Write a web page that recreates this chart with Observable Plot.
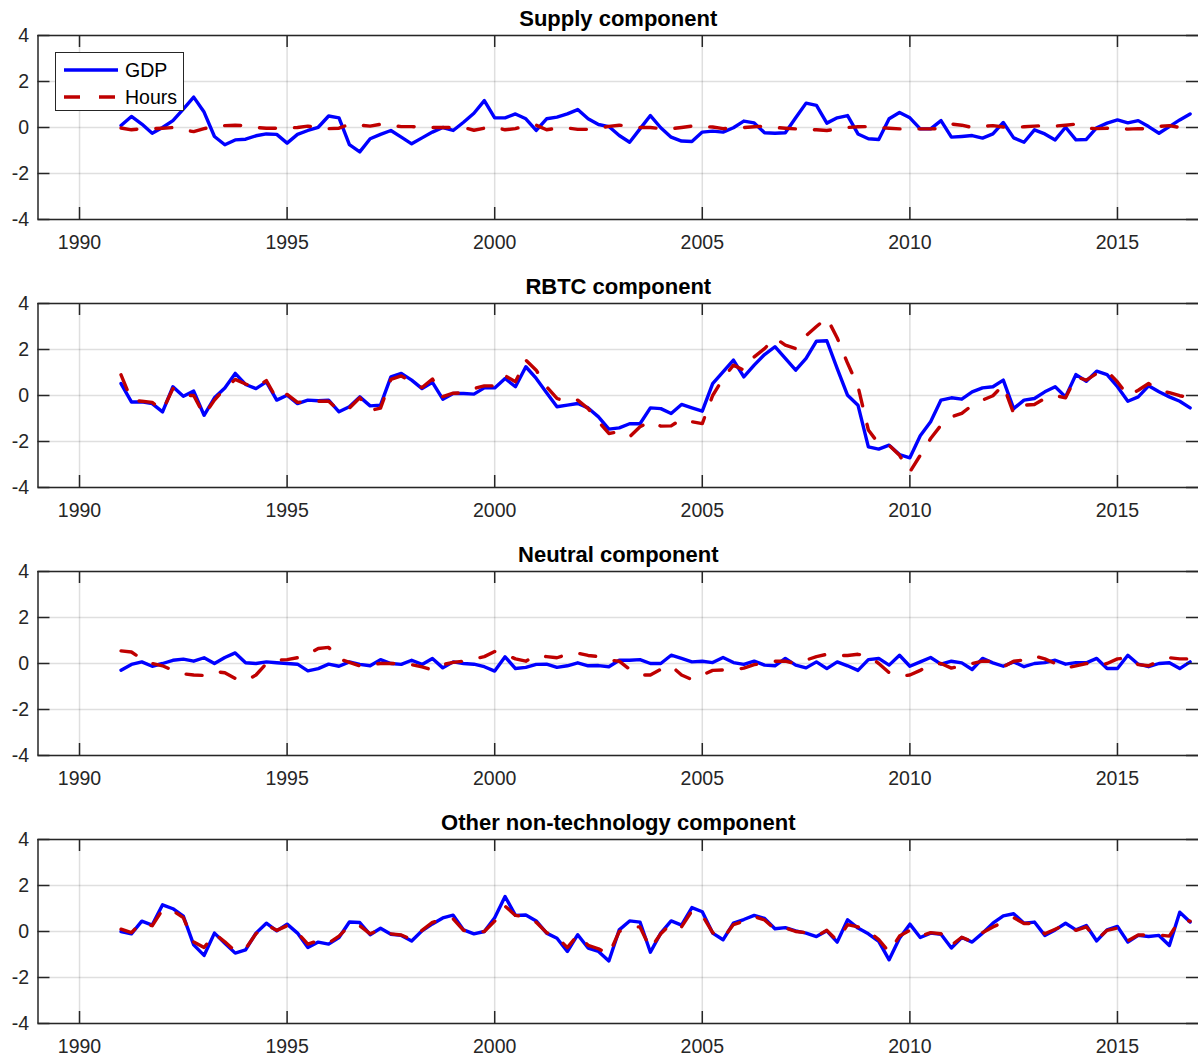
<!DOCTYPE html>
<html>
<head>
<meta charset="utf-8">
<script src="https://cdn.jsdelivr.net/npm/d3@7"></script>
<script src="https://cdn.jsdelivr.net/npm/@observablehq/plot@0.6"></script>
<style>
  body { margin: 0; background: #fff; font-family: "Liberation Sans", Arial, Helvetica, sans-serif; }
  #chart { position: relative; width: 1198px; height: 1057px; overflow: hidden; background: #fff; }
  #chart svg { display: block; }
  .legend { position: absolute; left: 55px; top: 52px; width: 127px; height: 57px;
            border: 1.5px solid #262626; background: #fff; }
  .legend .row { position: absolute; left: 0; height: 27px; width: 127px; }
  .legend svg { position: absolute; left: 7px; top: 0; }
  .legend span { position: absolute; left: 69px; top: 2px; font-size: 19.5px; color: #000; line-height: 22px; }
</style>
</head>
<body>
<div id="chart"></div>
<script>
// ---------- data ----------
const panelTitles = ["Supply component", "RBTC component", "Neutral component", "Other non-technology component"];
const seriesNames = ["GDP", "Hours"];
const xTicks = [1990, 1995, 2000, 2005, 2010, 2015];
const yTicks = [-4, -2, 0, 2, 4];
const xDomain = [1989, 2017];
const yDomain = [-4, 4];
const firstQuarter = 1991;
const nQuarters = 104;

const supplyGDP = [0.09,0.48,0.15,-0.25,0.0,0.3,0.8,1.32,0.67,-0.39,-0.75,-0.54,-0.51,-0.36,-0.28,-0.3,-0.68,-0.3,-0.13,0.01,
  0.5,0.42,-0.74,-1.06,-0.49,-0.3,-0.13,-0.42,-0.71,-0.45,-0.2,0.0,-0.13,0.23,0.62,1.17,0.42,0.42,0.59,0.38,
  -0.13,0.38,0.45,0.59,0.78,0.38,0.13,0.04,-0.35,-0.64,-0.06,0.52,-0.01,-0.42,-0.59,-0.61,-0.2,-0.16,-0.2,-0.01,
  0.28,0.2,-0.23,-0.25,-0.23,0.42,1.06,0.96,0.19,0.42,0.52,-0.28,-0.49,-0.52,0.38,0.65,0.42,-0.06,-0.06,0.3,
  -0.42,-0.39,-0.35,-0.46,-0.28,0.22,-0.45,-0.64,-0.1,-0.28,-0.54,0.01,-0.54,-0.52,-0.01,0.19,0.33,0.2,0.3,0.04,
  -0.25,0.04,0.33,0.59];
const supplyHours = [-0.02,-0.1,-0.05,-0.05,-0.03,0.0,-0.1,-0.18,-0.05,0.05,0.08,0.1,0.08,0.0,-0.03,-0.03,-0.02,0.0,0.06,0.0,
  -0.05,-0.03,0.14,0.1,0.06,0.14,0.08,0.04,0.04,0.02,0.0,0.0,0.0,0.0,-0.12,-0.03,0.02,-0.1,-0.05,0.08,
  0.1,-0.1,-0.03,-0.02,-0.08,-0.08,-0.03,0.05,0.1,0.05,0.0,0.0,-0.05,-0.05,0.0,0.06,0.05,0.02,-0.05,-0.03,
  0.0,0.03,0.06,0.0,-0.03,-0.06,-0.1,-0.1,-0.13,-0.07,0.0,0.03,0.04,0.0,-0.03,-0.06,-0.06,-0.06,-0.06,-0.05,
  0.15,0.1,0.0,0.05,0.08,0.02,0.0,0.03,0.06,0.09,0.06,0.1,0.15,-0.03,-0.05,-0.03,-0.05,-0.07,-0.05,-0.06,
  0.05,0.08,0.0,-0.06];
const rbtcGDP = [0.52,-0.28,-0.28,-0.35,-0.71,0.38,-0.03,0.19,-0.86,-0.1,0.33,0.96,0.48,0.3,0.59,-0.2,0.01,-0.35,-0.2,-0.23,
  -0.2,-0.71,-0.49,-0.06,-0.45,-0.42,0.81,0.96,0.67,0.3,0.57,-0.16,0.09,0.09,0.06,0.33,0.33,0.74,0.38,1.25,
  0.74,0.12,-0.49,-0.42,-0.35,-0.54,-0.93,-1.46,-1.41,-1.23,-1.23,-0.54,-0.57,-0.78,-0.39,-0.54,-0.68,0.52,1.03,1.54,
  0.81,1.32,1.78,2.12,1.61,1.1,1.61,2.36,2.38,1.17,0.01,-0.42,-2.23,-2.33,-2.16,-2.57,-2.71,-1.75,-1.14,-0.2,
  -0.1,-0.16,0.16,0.33,0.38,0.67,-0.57,-0.2,-0.13,0.16,0.38,-0.06,0.91,0.62,1.06,0.91,0.38,-0.25,-0.06,0.42,
  0.16,-0.06,-0.25,-0.54];
const rbtcHours = [0.9,-0.2,-0.25,-0.3,-0.65,0.3,0.0,0.0,-0.85,-0.2,0.3,0.7,0.5,0.35,0.65,-0.15,0.05,-0.3,-0.25,-0.25,
  -0.25,-0.65,-0.55,-0.1,-0.65,-0.55,0.7,0.85,0.6,0.35,0.72,-0.05,0.1,0.12,0.3,0.42,0.42,0.86,0.6,1.54,
  1.1,0.38,-0.13,-0.28,-0.2,-0.57,-1.14,-1.65,-1.58,-1.8,-1.36,-1.12,-1.33,-1.32,-1.03,-1.14,-1.22,0.0,0.74,1.32,
  1.1,1.68,2.04,2.5,2.19,2.04,2.6,3.0,3.38,2.5,1.4,0.4,-1.5,-2.1,-2.16,-2.6,-3.32,-2.6,-1.87,-1.29,
  -0.93,-0.78,-0.42,-0.2,-0.01,0.45,-0.78,-0.42,-0.39,-0.13,0.0,-0.1,0.81,0.67,0.96,1.06,0.59,0.0,0.23,0.52,
  0.23,0.12,-0.01,-0.1];
const neutralGDP = [-0.29,-0.04,0.07,-0.12,0.0,0.14,0.19,0.1,0.25,0.0,0.26,0.46,0.03,0.0,0.07,0.03,0.0,-0.03,-0.32,-0.22,
  -0.03,-0.12,0.07,-0.04,-0.1,0.17,0.0,-0.04,0.14,-0.04,0.22,-0.19,0.07,0.0,-0.03,-0.14,-0.33,0.29,-0.22,-0.17,
  -0.04,-0.03,-0.17,-0.1,0.03,-0.1,-0.09,-0.14,0.14,0.14,0.17,0.0,0.0,0.36,0.22,0.07,0.1,0.04,0.26,0.04,
  -0.04,0.1,-0.07,-0.1,0.22,-0.07,-0.19,0.07,-0.22,0.07,-0.1,-0.3,0.17,0.22,-0.07,0.36,-0.12,0.07,0.26,-0.03,
  0.1,0.03,-0.26,0.22,0.03,-0.12,0.07,-0.14,0.0,0.04,0.14,-0.03,0.04,0.03,0.22,-0.22,-0.22,0.36,-0.03,-0.14,
  0.0,0.03,-0.22,0.07];
const neutralHours = [0.55,0.5,0.2,0.0,-0.1,-0.3,-0.45,-0.5,-0.52,-0.35,-0.4,-0.65,-0.75,-0.5,0.0,0.15,0.17,0.25,0.4,0.65,
  0.7,0.2,0.05,-0.1,-0.05,0.0,0.0,0.0,-0.05,-0.15,-0.28,-0.05,0.05,0.1,0.2,0.3,0.52,0.4,0.2,0.1,
  0.35,0.3,0.25,0.4,0.45,0.35,0.3,0.15,0.1,-0.25,-0.5,-0.5,-0.25,-0.1,-0.5,-0.7,-0.5,-0.3,-0.28,-0.28,
  -0.2,-0.05,0.0,0.1,0.1,0.0,0.15,0.3,0.4,0.35,0.35,0.4,0.32,0.0,-0.4,-0.55,-0.5,-0.3,-0.05,0.0,
  -0.2,-0.1,0.0,0.1,0.1,-0.15,0.1,0.15,0.33,0.2,0.0,-0.2,-0.1,0.0,-0.1,0.0,0.2,0.25,-0.05,-0.1,
  0.1,0.25,0.2,0.2];
const otherGDP = [0.0,-0.1,0.45,0.28,1.16,0.99,0.67,-0.58,-1.04,-0.07,-0.51,-0.94,-0.8,-0.07,0.36,0.03,0.32,-0.07,-0.7,-0.46,
  -0.55,-0.26,0.41,0.39,-0.14,0.14,-0.12,-0.17,-0.41,0.03,0.33,0.59,0.71,0.07,-0.1,0.0,0.6,1.52,0.7,0.72,
  0.46,-0.07,-0.29,-0.87,-0.14,-0.72,-0.87,-1.28,0.07,0.46,0.41,-0.9,-0.07,0.46,0.28,1.04,0.86,-0.07,-0.36,0.36,
  0.52,0.7,0.57,0.12,0.17,0.03,-0.07,-0.22,0.03,-0.46,0.51,0.15,-0.1,-0.43,-1.23,-0.29,0.32,-0.26,-0.07,-0.12,
  -0.72,-0.26,-0.46,-0.07,0.36,0.68,0.77,0.36,0.41,-0.17,0.07,0.36,0.07,0.26,-0.41,0.07,0.22,-0.46,-0.17,-0.22,
  -0.17,-0.61,0.84,0.41];
const otherHours = [0.1,-0.05,0.4,0.25,0.95,0.9,0.6,-0.45,-0.7,-0.1,-0.45,-0.85,-0.75,-0.1,0.3,0.05,0.25,-0.05,-0.55,-0.4,
  -0.5,-0.2,0.25,0.25,-0.1,0.1,-0.1,-0.15,-0.35,0.05,0.4,0.5,0.55,0.05,-0.05,0.0,0.45,1.1,0.7,0.65,
  0.4,-0.05,-0.25,-0.7,-0.15,-0.6,-0.75,-1.0,0.0,0.2,0.2,-0.75,-0.1,0.35,0.2,0.9,0.7,-0.05,-0.3,0.3,
  0.45,0.65,0.5,0.1,0.15,0.0,-0.05,-0.2,0.05,-0.4,0.3,0.2,0.0,-0.35,-0.9,-0.2,0.05,-0.2,-0.05,-0.1,
  -0.6,-0.25,-0.45,-0.05,0.2,0.4,0.6,0.35,0.35,-0.1,0.1,0.3,0.05,0.2,-0.35,0.05,0.15,-0.4,-0.15,-0.15,
  -0.15,-0.2,0.5,0.45];

const panelSeries = [
  [supplyGDP, supplyHours],
  [rbtcGDP, rbtcHours],
  [neutralGDP, neutralHours],
  [otherGDP, otherHours]
];

// ---------- layout ----------
const quarters = d3.range(nQuarters).map(i => firstQuarter + i / 4);
const W = 1198, mL = 37.5, mT = 35, innerH = 184, tickLen = 12;
const innerW = W - mL;
const axisColor = "#262626";
const fontFamily = '"Liberation Sans", Arial, Helvetica, sans-serif';

function panel(title, gdp, hours, last) {
  const mB = last ? 1057 - 3 * 268 - mT - innerH : 268 - mT - innerH;
  return Plot.plot({
    width: W,
    height: mT + innerH + mB,
    marginTop: mT, marginBottom: mB, marginLeft: mL, marginRight: 0,
    style: { fontFamily, fontSize: "19.5px", color: axisColor, background: "#fff", overflow: "visible" },
    x: { domain: xDomain, range: [mL, 1200] },
    y: { domain: yDomain },
    marks: [
      Plot.gridX(xTicks, { stroke: axisColor, strokeOpacity: 0.15, strokeWidth: 1.5 }),
      Plot.gridY(yTicks, { stroke: axisColor, strokeOpacity: 0.15, strokeWidth: 1.5 }),
      Plot.lineY(gdp, { x: quarters, stroke: "#0000ff", strokeWidth: 3.4 }),
      Plot.lineY(hours, { x: quarters, stroke: "#bf0000", strokeWidth: 3.4, strokeDasharray: "16,19" }),
      // inward ticks
      Plot.ruleX(xTicks, { insetTop: innerH - tickLen, stroke: axisColor, strokeWidth: 1.5 }),
      Plot.ruleX(xTicks, { insetBottom: innerH - tickLen, stroke: axisColor, strokeWidth: 1.5 }),
      Plot.ruleY(yTicks, { insetRight: innerW - tickLen, stroke: axisColor, strokeWidth: 1.5 }),
      Plot.ruleY(yTicks, { insetLeft: innerW - tickLen, stroke: axisColor, strokeWidth: 1.5 }),
      // box
      Plot.ruleX(xDomain, { stroke: axisColor, strokeWidth: 1.5 }),
      Plot.ruleY(yDomain, { stroke: axisColor, strokeWidth: 1.5 }),
      Plot.axisX({ ticks: xTicks, tickSize: 0, tickPadding: 16, tickFormat: d => String(d), label: null, fill: axisColor }),
      Plot.axisY({ ticks: yTicks, tickSize: 0, tickPadding: 9, tickFormat: d => String(d), label: null, fill: axisColor }),
      Plot.text([title], { frameAnchor: "top", dy: -17, fontWeight: "bold", fontSize: 22, fill: "#000", lineAnchor: "middle" })
    ]
  });
}

const chart = document.getElementById("chart");
panelTitles.forEach((t, k) => {
  chart.appendChild(panel(t, panelSeries[k][0], panelSeries[k][1], k === 3));
});

// legend (top-left of first panel)
const legend = document.createElement("div");
legend.className = "legend";
const legendStyles = [
  { stroke: "#0000ff", dash: null },
  { stroke: "#bf0000", dash: "16,19" }
];
seriesNames.forEach((name, i) => {
  const row = document.createElement("div");
  row.className = "row";
  row.style.top = (4 + i * 27) + "px";
  const s = legendStyles[i];
  row.innerHTML = `<svg width="56" height="26"><line x1="1" x2="55" y1="13" y2="13" stroke="${s.stroke}" stroke-width="3.4"${s.dash ? ` stroke-dasharray="${s.dash}"` : ""}/></svg><span>${name}</span>`;
  legend.appendChild(row);
});
chart.appendChild(legend);
</script>
</body>
</html>
